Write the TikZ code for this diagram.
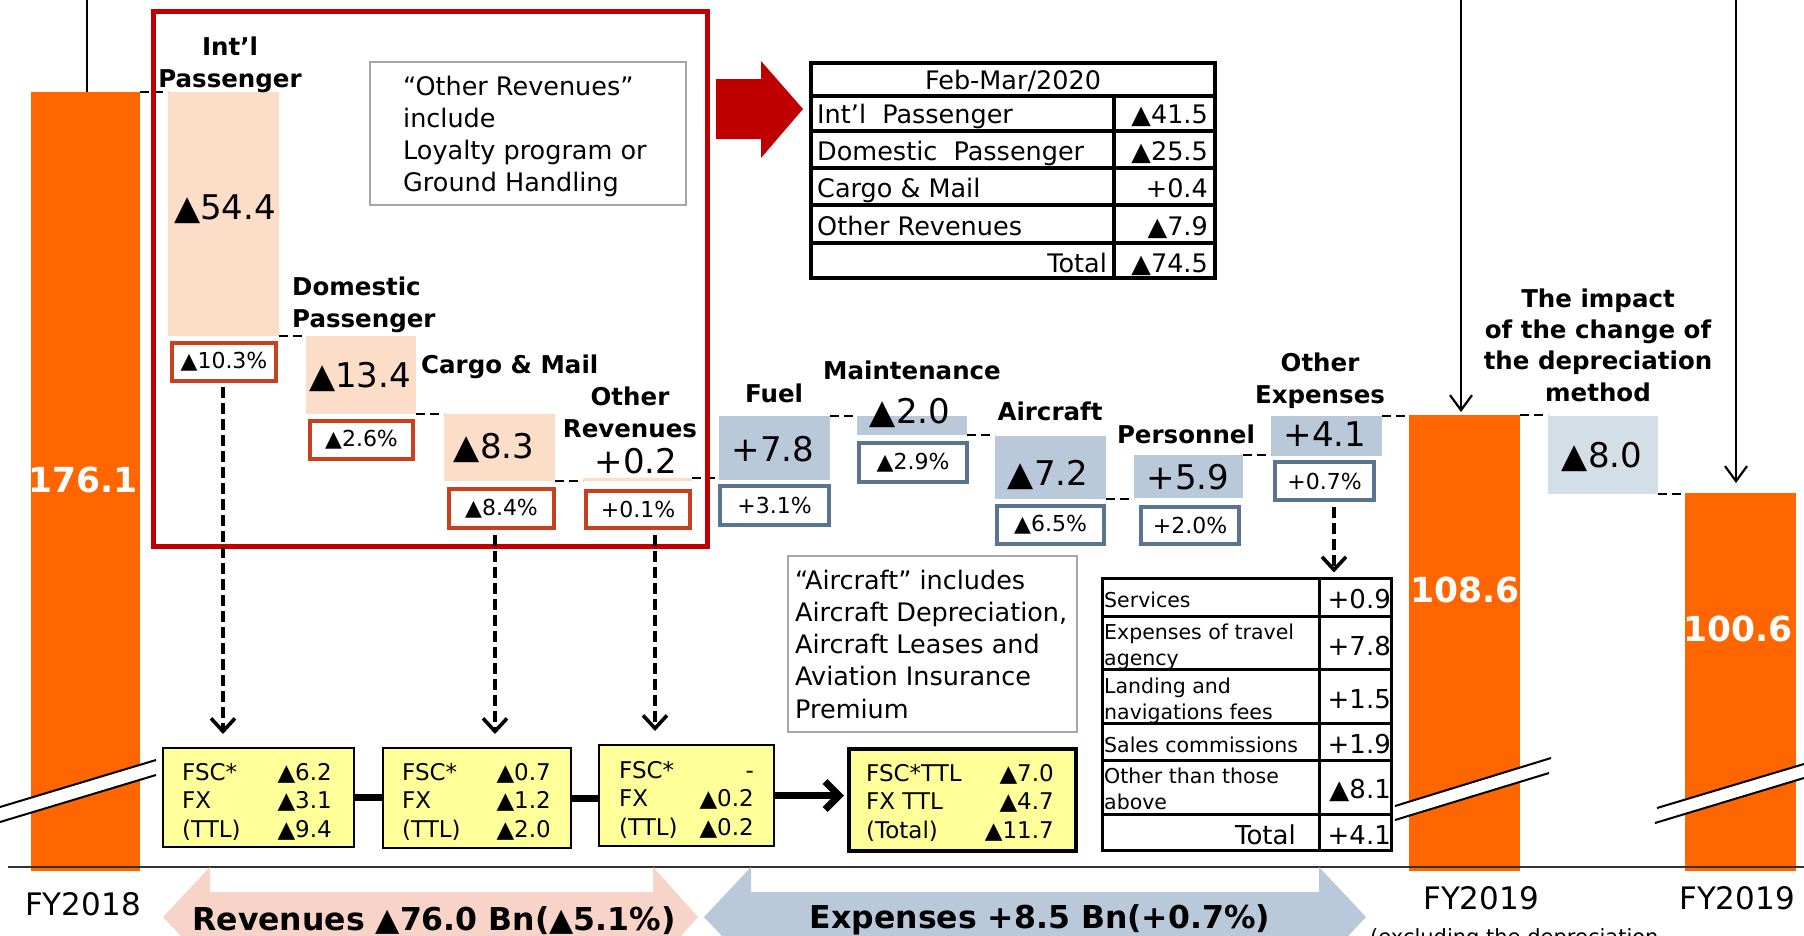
\documentclass[tikz,border=0pt]{standalone}
\usepackage{fontspec}
\setmainfont{DejaVu Sans}
\usetikzlibrary{arrows.meta}
\definecolor{orng}{HTML}{FF6600}
\definecolor{peach}{HTML}{FCDDC7}
\definecolor{redframe}{HTML}{C00000}
\definecolor{pctred}{HTML}{C8401E}
\definecolor{steel}{HTML}{B9C9D9}
\definecolor{steellight}{HTML}{D3DEE7}
\definecolor{pctblue}{HTML}{5B7590}
\definecolor{ylw}{HTML}{FFFF99}
\definecolor{revpink}{HTML}{F8D3C8}
\definecolor{notegray}{HTML}{A6A6A6}
\newcommand\fsz[2]{\fontsize{#1}{#2}\selectfont}
\begin{document}
\begin{tikzpicture}[x=1pt,y=-1pt,
  box/.style={rectangle, inner sep=0pt, outer sep=0pt, anchor=north west},
  conn/.style={draw=black, line width=1.8pt, dash pattern=on 9pt off 5pt},
  pctr/.style={rectangle, draw=pctred, line width=4pt, fill=white, inner sep=0pt, outer sep=0pt, font=\fsz{22}{26}},
  pctb/.style={pctr, draw=pctblue},
  lab/.style={font=\bfseries\fsz{24.5}{32}, inner sep=0pt, anchor=base, align=center},
  val/.style={font=\fsz{34}{40}, inner sep=0pt, anchor=base},
  wval/.style={font=\bfseries\fsz{34.5}{40}, text=white, inner sep=0pt, anchor=base},
  fylab/.style={font=\fsz{31}{36}, inner sep=0pt, anchor=base},
  ttxt/.style={font=\fsz{25.5}{30}, inner sep=0pt},
  stxt/.style={font=\fsz{20.5}{26}, inner sep=0pt, anchor=base west, align=left},
  otv/.style={font=\fsz{26}{30}, inner sep=0pt, anchor=base east},
  ytxt/.style={font=\fsz{23}{28.5}, inner sep=0pt},
  darr/.style={line width=3.6pt, dash pattern=on 11pt off 5pt, -{Straight Barb[length=13pt,width=24pt,line width=3.6pt]}},
  tarr/.style={line width=2.2pt, -{Straight Barb[length=15pt,width=22pt]}},
  brk/.style={line width=2pt}
]
\useasboundingbox (0,0) rectangle (1804,935);
\begin{scope}
\clip (0,0) rectangle (1804,935);

% ---------- waterfall bars ----------
\node[box, fill=orng, minimum width=109pt, minimum height=779pt] (fy18) at (31,92) {};
\node[box, fill=peach, minimum width=111pt, minimum height=244pt] (intl) at (168,92) {};
\node[box, fill=peach, minimum width=110pt, minimum height=78pt] (dom) at (306,336) {};
\node[box, fill=peach, minimum width=111pt, minimum height=67pt] (cargo) at (444,414) {};
\node[box, fill=peach, minimum width=109pt, minimum height=3pt] (othrev) at (583,478) {};
\node[box, fill=steel, minimum width=111pt, minimum height=64pt] (fuel) at (719,416) {};
\node[box, fill=steel, minimum width=110pt, minimum height=19pt] (maint) at (857,416) {};
\node[box, fill=steel, minimum width=111pt, minimum height=63pt] (airc) at (995,436) {};
\node[box, fill=steel, minimum width=109pt, minimum height=43pt] (pers) at (1134,455) {};
\node[box, fill=steel, minimum width=111pt, minimum height=40pt] (othexp) at (1271,416) {};
\node[box, fill=orng, minimum width=111pt, minimum height=456pt] (fy19) at (1409,415) {};
\node[box, fill=steellight, minimum width=110pt, minimum height=78pt] (impact) at (1548,416) {};
\node[box, fill=orng, minimum width=111pt, minimum height=378pt] (fy19x) at (1685,493) {};

% ---------- dashed connectors between bars ----------
\draw[conn] (fy18.north east) -- (intl.north west);
\draw[conn] (intl.south east) -- (intl.south east -| dom.west);
\draw[conn] (dom.south east) -- (dom.south east -| cargo.west);
\draw[conn] (cargo.south east) -- (cargo.south east -| othrev.west);
\draw[conn] (othrev.north east) -- (othrev.north east -| fuel.west);
\draw[conn] (fuel.north east) -- (fuel.north east -| maint.west);
\draw[conn] (maint.south east) -- (maint.south east -| airc.west);
\draw[conn] (airc.south east) -- (airc.south east -| pers.west);
\draw[conn] (pers.north east) -- (pers.north east -| othexp.west);
\draw[conn] (othexp.north east) -- (othexp.north east -| fy19.west);
\draw[conn] (fy19.north east) -- (fy19.north east -| impact.west);
\draw[conn] (impact.south east) -- (impact.south east -| fy19x.west);

% ---------- top lines and arrows ----------
\coordinate (t0) at (87,0);
\coordinate (t1) at (1461,0);
\coordinate (t2) at (1736,0);
\draw[line width=2pt] (t0) -- (t0 |- fy18.north);
\draw[tarr, shorten >=3pt] (t1) -- (t1 |- fy19.north);
\draw[tarr, shorten >=10pt] (t2) -- (t2 |- fy19x.north);

% ---------- labels (multi-line: base = last line) ----------
\node[lab] (lintl) at (230,87) {Int’l\\Passenger};
\node[lab, anchor=base west, align=left] (ldom) at (292,327) {Domestic\\Passenger};
\node[lab, anchor=base west] (lcargo) at (421,373) {Cargo \& Mail};
\node[lab] (lothrev) at (630,437) {Other\\Revenues};
\node[lab] (lfuel) at (774,402) {Fuel};
\node[lab] (lmaint) at (912,379) {Maintenance};
\node[lab] (lairc) at (1050,420) {Aircraft};
\node[lab] (lpers) at (1186,443) {Personnel};
\node[lab] (lothexp) at (1320,403) {Other\\Expenses};
\node[lab, font=\bfseries\fsz{24.5}{31.3}] (limpact) at (1598,401) {The impact\\of the change of\\the depreciation\\method};

% ---------- values ----------
\node[val] (vintl) at (225,219.4) {▲54.4};
\node[val] (vdom) at (360,387.4) {▲13.4};
\node[val] (vcargo) at (494,458.4) {▲8.3};
\node[val] (vothrev) at (636,473.4) {+0.2};
\node[val] (vfuel) at (773,461.4) {+7.8};
\node[val] (vmaint) at (910,423.4) {▲2.0};
\node[val] (vairc) at (1048,485.4) {▲7.2};
\node[val] (vpers) at (1188,489.4) {+5.9};
\node[val] (vothexp) at (1325,446.4) {+4.1};
\node[val] (vimpact) at (1602,467.4) {▲8.0};
\node[wval] (vfy18) at (83,492) {176.1};
\node[wval] (vfy19) at (1465,602) {108.6};
\node[wval] (vfy19x) at (1738,641) {100.6};

% ---------- percent boxes ----------
\node[pctr, minimum width=104pt, minimum height=38pt] (p1) at (224,362) {▲10.3\%};
\node[pctr, minimum width=103pt, minimum height=38pt] (p2) at (361.5,440) {▲2.6\%};
\node[pctr, minimum width=105pt, minimum height=39pt] (p3) at (501.5,508.5) {▲8.4\%};
\node[pctr, minimum width=104pt, minimum height=37pt] (p4) at (638,509.5) {+0.1\%};
\node[pctb, minimum width=109pt, minimum height=39pt] (p5) at (774.5,505.5) {+3.1\%};
\node[pctb, minimum width=108pt, minimum height=39pt] (p6) at (913,462.5) {▲2.9\%};
\node[pctb, minimum width=107pt, minimum height=38pt] (p7) at (1050.5,525) {▲6.5\%};
\node[pctb, minimum width=98pt, minimum height=37pt] (p8) at (1190,525.5) {+2.0\%};
\node[pctb, minimum width=99pt, minimum height=38pt] (p9) at (1324.5,481) {+0.7\%};

% ---------- red frame and notes ----------
\node[box, draw=redframe, line width=5pt, minimum width=554pt, minimum height=535pt] (frame) at (153,11) {};
\node[box, draw=notegray, line width=2pt, minimum width=316pt, minimum height=143pt] (note1) at (370,62) {};
\node[ttxt, anchor=base west, align=left, font=\fsz{25.5}{32}] (note1t) at (403,191) {“Other Revenues”\\include\\Loyalty program or\\Ground Handling};
\node[box, draw=notegray, line width=2pt, minimum width=289pt, minimum height=176pt] (note2) at (788,556) {};
\node[ttxt, anchor=base west, align=left, font=\fsz{25.5}{32.2}] (note2t) at (795,718) {“Aircraft” includes\\Aircraft Depreciation,\\Aircraft Leases and\\Aviation Insurance\\Premium};

% ---------- red block arrow ----------
\fill[redframe] (716,79) -- (761,79) -- (761,61) -- (803,109) -- (761,158) -- (761,139) -- (716,139) -- cycle;

% ---------- Feb-Mar table ----------
\node[box, draw=black, line width=3.5pt, minimum width=404pt, minimum height=215pt] (ftab) at (811,63) {};
\foreach \yy in {96,131,168,205,243} \draw[line width=3.5pt] (811,\yy) -- (1215,\yy);
\draw[line width=3.5pt] (1114,96) -- (1114,278);
\node[ttxt, anchor=base] (fth) at (1013,89) {Feb-Mar/2020};
\node[ttxt, anchor=base west] (ft1) at (817,123) {Int’l\ \ Passenger};
\node[ttxt, anchor=base west] (ft2) at (817,160) {Domestic\ \ Passenger};
\node[ttxt, anchor=base west] (ft3) at (817,197) {Cargo \& Mail};
\node[ttxt, anchor=base west] (ft4) at (817,235) {Other Revenues};
\node[ttxt, anchor=base east] (ft5) at (1107,272) {Total};
\node[ttxt, anchor=base east] (fv1) at (1208,123) {▲41.5};
\node[ttxt, anchor=base east] (fv2) at (1208,160) {▲25.5};
\node[ttxt, anchor=base east] (fv3) at (1208,197) {+0.4};
\node[ttxt, anchor=base east] (fv4) at (1208,235) {▲7.9};
\node[ttxt, anchor=base east] (fv5) at (1208,272) {▲74.5};

% ---------- yellow boxes ----------
\node[box, fill=ylw, draw=black, line width=1.5pt, minimum width=191pt, minimum height=99pt] (y1) at (163,748) {};
\node[box, fill=ylw, draw=black, line width=1.5pt, minimum width=188pt, minimum height=100pt] (y2) at (383,748) {};
\node[box, fill=ylw, draw=black, line width=1.5pt, minimum width=175pt, minimum height=101pt] (y3) at (599,745) {};
\node[box, fill=ylw, draw=black, line width=4pt, minimum width=227pt, minimum height=102pt] (y4) at (849,749) {};
\node[ytxt, anchor=base west, align=left] (y1l) at (182,837) {FSC*\\FX\\(TTL)};
\node[ytxt, anchor=base east, align=right] (y1v) at (332,837) {▲6.2\\▲3.1\\▲9.4};
\node[ytxt, anchor=base west, align=left] (y2l) at (402,837) {FSC*\\FX\\(TTL)};
\node[ytxt, anchor=base east, align=right] (y2v) at (551,837) {▲0.7\\▲1.2\\▲2.0};
\node[ytxt, anchor=base west, align=left] (y3l) at (619,835) {FSC*\\FX\\(TTL)};
\node[ytxt, anchor=base east, align=right] (y3v) at (754,835) {-\\▲0.2\\▲0.2};
\node[ytxt, anchor=base west, align=left] (y4l) at (866,838) {FSC*TTL\\FX TTL\\(Total)};
\node[ytxt, anchor=base east, align=right] (y4v) at (1054,838) {▲7.0\\▲4.7\\▲11.7};
\draw[line width=7pt] (y1.east) -- (y1.east -| y2.west);
\draw[line width=7pt] (y2.east) -- (y2.east -| y3.west);
\draw[line width=7pt, -{Straight Barb[length=14pt,width=28pt]}, shorten >=5pt] (y3.east) -- (y3.east -| y4.west);

% ---------- other expenses table ----------
\node[box, draw=black, line width=3pt, minimum width=289pt, minimum height=272pt] (otab) at (1102.5,578.5) {};
\foreach \yy in {616,669,723,760,814} \draw[line width=3pt] (1102.5,\yy) -- (1391.5,\yy);
\draw[line width=3pt] (1319,578.5) -- (1319,850.5);
\node[stxt] (ot1) at (1104,607) {Services};
\node[stxt] (ot2) at (1104,665) {Expenses of travel\\agency};
\node[stxt] (ot3) at (1104,719) {Landing and\\navigations fees};
\node[stxt] (ot4) at (1104,752) {Sales commissions};
\node[stxt] (ot5) at (1104,809) {Other than those\\above};
\node[otv] (ot6) at (1296,844) {Total};
\node[otv] (ov1) at (1391,608) {+0.9};
\node[otv] (ov2) at (1391,655) {+7.8};
\node[otv] (ov3) at (1391,708) {+1.5};
\node[otv] (ov4) at (1391,753) {+1.9};
\node[otv] (ov5) at (1391,798) {▲8.1};
\node[otv] (ov6) at (1391,844) {+4.1};

% ---------- dashed down arrows ----------
\coordinate (xa) at (223,0);
\coordinate (xb) at (495,0);
\coordinate (xc) at (655,0);
\coordinate (xd) at (1334,0);
\draw[darr, shorten <=6pt, shorten >=14pt] (p1.south -| xa) -- (y1.north -| xa);
\draw[darr, shorten <=7pt, shorten >=14pt] (p3.south -| xb) -- (y2.north -| xb);
\draw[darr, shorten <=7pt, shorten >=14pt] (p4.south -| xc) -- (y3.north -| xc);
\draw[darr, shorten <=7pt, shorten >=6pt] (p9.south -| xd) -- (otab.north -| xd);

% ---------- axis break marks ----------
\fill[white] (0,807) -- (156,760) -- (156,775) -- (0,822) -- cycle;
\draw[brk] (0,807) -- (156,760);
\draw[brk] (0,822) -- (156,775);
\fill[white] (1395,806) -- (1551,758) -- (1549,773) -- (1395,820) -- cycle;
\draw[brk] (1395,806) -- (1551,758);
\draw[brk] (1395,820) -- (1549,773);
\fill[white] (1657,808) -- (1804,764) -- (1804,778) -- (1655,823) -- cycle;
\draw[brk] (1657,808) -- (1804,764);
\draw[brk] (1655,823) -- (1804,778);

% ---------- baseline ----------
\draw[line width=2pt, black!80] (8,866.5) -- (1804,866.5);

% ---------- year labels ----------
\node[fylab] (fy18l) at (83,915) {FY2018};
\node[fylab] (fy19l) at (1481,909) {FY2019};
\node[fylab] (fy19xl) at (1737,909) {FY2019};
\node[font=\fsz{21}{25}, inner sep=0pt, anchor=base west] (excl) at (1370,944) {(excluding the depreciation};

% ---------- bottom block arrows ----------
\fill[revpink] (163,917) -- (210,867) -- (210,892) -- (653,892) -- (653,867) -- (698,917) -- (653,967) -- (653,942) -- (210,942) -- (210,967) -- cycle;
\fill[steel] (704,917) -- (751,867) -- (751,892) -- (1319,892) -- (1319,867) -- (1366,917) -- (1319,967) -- (1319,942) -- (751,942) -- (751,967) -- cycle;
\node[font=\bfseries\fsz{31.5}{36}, inner sep=0pt, anchor=base] (revt) at (434,930) {Revenues ▲76.0 Bn(▲5.1\%)};
\node[font=\bfseries\fsz{31.5}{36}, inner sep=0pt, anchor=base] (expt) at (1040,928) {Expenses +8.5 Bn(+0.7\%)};
\end{scope}
\end{tikzpicture}
\end{document}
